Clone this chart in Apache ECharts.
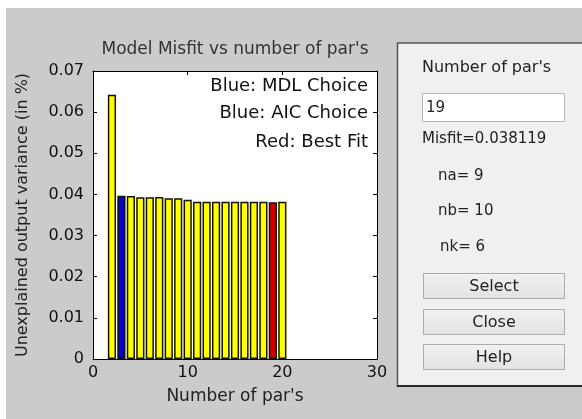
<!DOCTYPE html>
<html><head><meta charset="utf-8">
<script src="https://cdn.jsdelivr.net/npm/echarts@6/dist/echarts.min.js"></script>
<style>html,body{margin:0;padding:0;background:#fff}#c{width:582px;height:419px}</style>
</head><body><div id="c"></div>
<script>
// ---- data ----
const nPars  = [2, 3, 4, 5, 6, 7, 8, 9, 10, 11, 12, 13, 14, 15, 16, 17, 18, 19, 20];
const misfit = [0.0642, 0.0397, 0.0396, 0.0393, 0.0393, 0.0394, 0.0391, 0.0391, 0.0387,
                0.0382, 0.0382, 0.0382, 0.0382, 0.0382, 0.0382, 0.0382, 0.0382, 0.038119, 0.0382];
const mdlChoice = 3;
const aicChoice = 3;
const bestFit = 19;
const xTickLabels = ['0', '10', '20', '30'];
const yTickLabels = ['0', '0.01', '0.02', '0.03', '0.04', '0.05', '0.06', '0.07'];
const legendLines = ['Blue: MDL Choice', 'Blue: AIC Choice', 'Red: Best Fit'];
const panelTitle = "Number of par's";
const selectedPars = '19';
const misfitText = 'Misfit=0.038119';
const orderLines = ['na= 9', 'nb= 10', 'nk= 6'];
const buttons = ['Select', 'Close', 'Help'];

// ---- chart ----
const FONT = 'DejaVu Sans';
const chart = echarts.init(document.getElementById('c'), null, {renderer: 'canvas'});

function barColor(n) {
  if (n === bestFit) return '#d00000';
  if (n === mdlChoice || n === aicChoice) return '#0000d8';
  return '#ffff00';
}
const barData = nPars.map((n, i) => ({
  value: [n, misfit[i]],
  itemStyle: {color: barColor(n)}
}));

const graphic = [
  {type: 'rect', z: 100, shape: {x: 0, y: 0, width: 582, height: 8}, style: {fill: '#fff'}},
  {type: 'rect', z: 100, shape: {x: 0, y: 0, width: 6, height: 419}, style: {fill: '#fff'}},
  // panel
  {type: 'rect', z: 100, shape: {x: 397.5, y: 43, width: 300, height: 343}, style: {fill: '#f0f0f0', stroke: '#555', lineWidth: 1.5}},
  {type: 'line', z: 101, shape: {x1: 397, y1: 386, x2: 582, y2: 386}, style: {stroke: '#2a2a2a', lineWidth: 2}},
  {type: 'text', z: 102, x: 422, y: 68, style: {text: panelTitle, font: '16px ' + FONT, fill: '#222', verticalAlign: 'middle'}},
  {type: 'rect', z: 101, shape: {x: 422.5, y: 93.5, width: 142, height: 28}, style: {fill: '#fff', stroke: '#b4b4b4', lineWidth: 1}},
  {type: 'text', z: 102, x: 426, y: 108, style: {text: selectedPars, font: '15px ' + FONT, fill: '#222', verticalAlign: 'middle'}},
  {type: 'text', z: 102, x: 422, y: 139.5, style: {text: misfitText, font: '15px ' + FONT, fill: '#222', verticalAlign: 'middle'}},
  {type: 'text', z: 102, x: 438, y: 176, style: {text: orderLines[0], font: '15px ' + FONT, fill: '#222', verticalAlign: 'middle'}},
  {type: 'text', z: 102, x: 438, y: 211, style: {text: orderLines[1], font: '15px ' + FONT, fill: '#222', verticalAlign: 'middle'}},
  {type: 'text', z: 102, x: 440, y: 247, style: {text: orderLines[2], font: '15px ' + FONT, fill: '#222', verticalAlign: 'middle'}}
];
const btnTops = [273.5, 309.5, 344.5];
buttons.forEach((b, i) => {
  graphic.push({type: 'rect', z: 101, shape: {x: 423.5, y: btnTops[i], width: 141, height: 25},
    style: {fill: new echarts.graphic.LinearGradient(0, 0, 0, 1, [{offset: 0, color: '#f2f2f2'}, {offset: 1, color: '#e2e2e2'}]), stroke: '#acacac', lineWidth: 1}});
  graphic.push({type: 'text', z: 102, x: 494, y: btnTops[i] + 13, style: {text: b, font: '16px ' + FONT, fill: '#222', align: 'center', verticalAlign: 'middle'}});
});
const legendY = [86, 113.5, 142.5];
legendLines.forEach((t, i) => {
  graphic.push({type: 'text', z: 102, x: 368, y: legendY[i], style: {text: t, font: '18px ' + FONT, fill: '#111', align: 'right', verticalAlign: 'middle'}});
});

const axisCommon = {
  axisLine: {show: true, onZero: false, lineStyle: {color: '#000', width: 1}},
  axisTick: {show: true, inside: true, length: 4, lineStyle: {color: '#000'}},
  splitLine: {show: false}
};

chart.setOption({
  backgroundColor: '#cbcbcb',
  animation: false,
  title: {
    text: "Model Misfit vs number of par's",
    left: 235, top: 41, textAlign: 'center', padding: 0,
    textStyle: {fontFamily: FONT, fontSize: 17, fontWeight: 'normal', color: '#333'}
  },
  grid: {left: 93, right: 205, top: 71, bottom: 60, show: true, backgroundColor: '#fff', borderWidth: 0},
  xAxis: [
    Object.assign({}, axisCommon, {
      type: 'value', min: 0, max: 30, interval: 10, position: 'bottom',
      name: "Number of par's", nameLocation: 'middle', nameGap: 29,
      nameTextStyle: {fontFamily: FONT, fontSize: 17, color: '#222'},
      axisLabel: {margin: 6, fontFamily: FONT, fontSize: 16, color: '#111',
        formatter: (v) => xTickLabels[Math.round(v / 10)]}
    }),
    Object.assign({}, axisCommon, {
      type: 'value', min: 0, max: 30, interval: 10, position: 'top',
      axisLabel: {show: false}
    })
  ],
  yAxis: [
    Object.assign({}, axisCommon, {
      type: 'value', min: 0, max: 0.07, interval: 0.01, position: 'left',
      name: 'Unexplained output variance (in %)', nameLocation: 'middle', nameGap: 62, nameRotate: 90,
      nameTextStyle: {fontFamily: FONT, fontSize: 16, color: '#222'},
      axisLabel: {margin: 9, fontFamily: FONT, fontSize: 16, color: '#111',
        formatter: (v) => yTickLabels[Math.round(v * 100)]}
    }),
    Object.assign({}, axisCommon, {
      type: 'value', min: 0, max: 0.07, interval: 0.01, position: 'right',
      axisLabel: {show: false}
    })
  ],
  series: [{
    type: 'bar',
    xAxisIndex: 0, yAxisIndex: 0,
    barWidth: 8.2,
    itemStyle: {borderColor: '#141400', borderWidth: 1.5},
    data: barData
  }],
  graphic: graphic
});
</script></body></html>
